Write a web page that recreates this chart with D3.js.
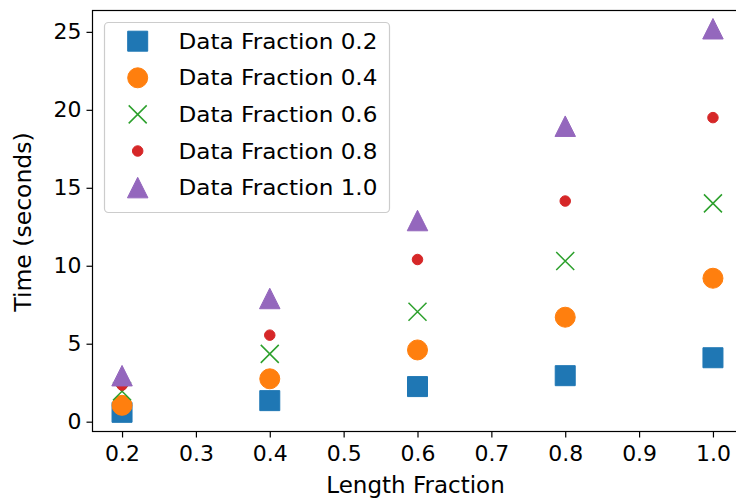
<!DOCTYPE html>
<html>
<head>
<meta charset="utf-8">
<script src="https://cdn.jsdelivr.net/npm/d3@7"></script>
<style>
  html, body { margin: 0; padding: 0; background: #ffffff; overflow: hidden; }
  svg { display: block; font-family: "DejaVu Sans", sans-serif; }
</style>
</head>
<body>
<svg id="chart" width="736" height="498"></svg>
<script>
// ---- data ----
const lengthFractions = [0.2, 0.4, 0.6, 0.8, 1.0];
const seriesNames = ["Data Fraction 0.2", "Data Fraction 0.4", "Data Fraction 0.6", "Data Fraction 0.8", "Data Fraction 1.0"];
const time02 = [0.6, 1.35, 2.25, 2.95, 4.1];
const time04 = [1.05, 2.75, 4.6, 6.7, 9.2];
const time06 = [1.95, 4.35, 7.05, 10.3, 14.0];
const time08 = [2.35, 5.55, 10.4, 14.15, 19.5];
const time10 = [2.95, 7.9, 12.9, 18.95, 25.2];
const xTicks = [0.2, 0.3, 0.4, 0.5, 0.6, 0.7, 0.8, 0.9, 1.0];
const yTicks = [0, 5, 10, 15, 20, 25];
const xDomain = [0.16, 1.04];
const yDomain = [-0.63, 26.37];

const seriesValues = [time02, time04, time06, time08, time10];
const colors = ["#1f77b4", "#ff7f0e", "#2ca02c", "#d62728", "#9467bd"];

// matplotlib-like marker shapes
const mplSquare = { draw(ctx, size) { const h = Math.sqrt(size) / 2; ctx.rect(-h, -h, 2 * h, 2 * h); } };
const mplCircle = { draw(ctx, size) { const r = Math.sqrt(size) / 2; ctx.moveTo(r, 0); ctx.arc(0, 0, r, 0, 2 * Math.PI); } };
const mplTriangle = { draw(ctx, size) { const h = Math.sqrt(size) / 2; ctx.moveTo(0, -h); ctx.lineTo(h, h); ctx.lineTo(-h, h); ctx.closePath(); } };
const mplX = { draw(ctx, size) { const h = Math.sqrt(size) / 2; ctx.moveTo(-h, -h); ctx.lineTo(h, h); ctx.moveTo(-h, h); ctx.lineTo(h, -h); } };

const markerSpecs = [
  { type: mplSquare, size: 20 * 20, fill: true },
  { type: mplCircle, size: 20 * 20, fill: true },
  { type: mplX, size: 18 * 18, fill: false },
  { type: mplCircle, size: 10.5 * 10.5, fill: true },
  { type: mplTriangle, size: 20.5 * 20.5, fill: true }
];

// widen text slightly (reference glyphs are a bit wider than their height suggests)
function widen(sel, factor) {
  sel.each(function () {
    const len = this.getComputedTextLength();
    d3.select(this).attr("textLength", len * factor).attr("lengthAdjust", "spacingAndGlyphs");
  });
}

const svg = d3.select("#chart");
const plotLeft = 92.5, plotRight = 742.5, plotTop = 10.5, plotBottom = 431.5;

const x = d3.scaleLinear().domain(xDomain).range([plotLeft, plotRight]);
const y = d3.scaleLinear().domain(yDomain).range([plotBottom, plotTop]);

// markers
seriesValues.forEach((vals, i) => {
  const spec = markerSpecs[i];
  const sym = d3.symbol().type(spec.type).size(spec.size);
  svg.append("g").selectAll("path")
    .data(lengthFractions.map((lf, j) => ({ lf, v: vals[j] })))
    .join("path")
    .attr("transform", d => `translate(${x(d.lf)},${y(d.v)})`)
    .attr("d", sym)
    .attr("fill", spec.fill ? colors[i] : "none")
    .attr("stroke", colors[i])
    .attr("stroke-width", spec.fill ? 1 : 1.5);
});

// axes
const xAxis = d3.axisBottom(x).tickValues(xTicks).tickFormat(d3.format(".1f")).tickSize(6).tickPadding(9).tickSizeOuter(0);
const yAxis = d3.axisLeft(y).tickValues(yTicks).tickFormat(d3.format("d")).tickSize(6).tickPadding(5).tickSizeOuter(0);

const gx = svg.append("g").attr("transform", `translate(0,${plotBottom})`).call(xAxis);
const gy = svg.append("g").attr("transform", `translate(${plotLeft},0)`).call(yAxis);
[gx, gy].forEach(g => {
  g.select(".domain").remove();
  g.selectAll(".tick line").attr("stroke", "#000").attr("stroke-width", 1.2);
  g.selectAll(".tick text").attr("fill", "#000").style("font-size", "20.5px").style("font-family", "DejaVu Sans");
  widen(g.selectAll(".tick text"), 1.07);
});

// spines
svg.append("rect")
  .attr("x", plotLeft).attr("y", plotTop)
  .attr("width", plotRight - plotLeft).attr("height", plotBottom - plotTop)
  .attr("fill", "none").attr("stroke", "#000").attr("stroke-width", 1.2);

// axis labels
svg.append("text")
  .attr("x", (plotLeft + plotRight) / 2 - 2).attr("y", 492.5)
  .attr("text-anchor", "middle")
  .style("font-size", "23px").attr("fill", "#000")
  .text("Length Fraction");

svg.append("text")
  .attr("transform", `translate(31,${(plotTop + plotBottom) / 2 + 1}) rotate(-90)`)
  .attr("text-anchor", "middle")
  .style("font-size", "23.5px").attr("fill", "#000")
  .text("Time (seconds)");

// legend
const legend = svg.append("g");
legend.append("rect")
  .attr("x", 104.5).attr("y", 22.5)
  .attr("width", 285).attr("height", 190)
  .attr("rx", 4).attr("ry", 4)
  .attr("fill", "#ffffff").attr("fill-opacity", 0.8)
  .attr("stroke", "#cccccc").attr("stroke-width", 1.2);

seriesNames.forEach((name, i) => {
  const cy = 41.2 + i * 36.6;
  const spec = markerSpecs[i];
  legend.append("path")
    .attr("transform", `translate(137.7,${cy})`)
    .attr("d", d3.symbol().type(spec.type).size(spec.size))
    .attr("fill", spec.fill ? colors[i] : "none")
    .attr("stroke", colors[i])
    .attr("stroke-width", spec.fill ? 1 : 1.5);
  legend.append("text")
    .attr("x", 178.5).attr("y", cy + 7.6)
    .style("font-size", "21.5px").attr("fill", "#000")
    .text(name);
});
widen(legend.selectAll("text"), 1.075);
</script>
</body>
</html>
